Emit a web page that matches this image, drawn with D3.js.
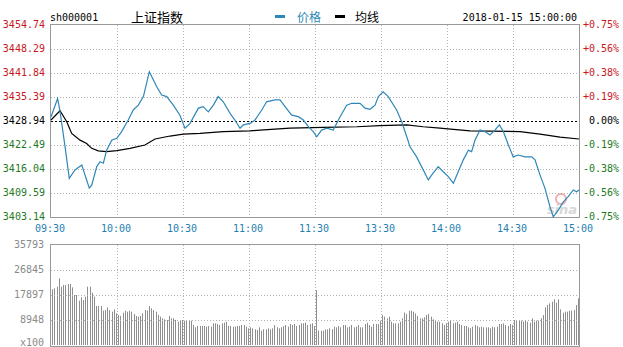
<!DOCTYPE html>
<html>
<head>
<meta charset="utf-8">
<script src="https://cdn.jsdelivr.net/npm/d3@7/dist/d3.min.js"></script>
<style>
	body { margin: 0; background: #fff; }
	text { font-family: "DejaVu Sans Mono", monospace; font-size: 10px; }
	.cjk { font-family: "Noto Sans CJK SC", sans-serif; font-size: 12px; }
	.grid { stroke: #b4b4b4; stroke-dasharray: 1, 2; shape-rendering: crispEdges; }
	.frame { fill: none; stroke: #999; shape-rendering: crispEdges; }
</style>
</head>
<body>
<svg id="chart" width="623" height="347"></svg>
<script>
// axis labels
var timeLabels = ["09:30", "10:00", "10:30", "11:00", "11:30", "13:30", "14:00", "14:30", "15:00"];
var timeTicks = [0, 30, 60, 90, 120, 150, 180, 210, 240];
var priceTicks = [3454.74, 3448.29, 3441.84, 3435.39, 3428.94, 3422.49, 3416.04, 3409.59, 3403.14];
var pctLabels = ["+0.75%", "+0.56%", "+0.38%", "+0.19%", "0.00%", "-0.19%", "-0.38%", "-0.56%", "-0.75%"];
var volTicks = [35793, 26845, 17897, 8948, 0];
var volLabels = ["35793", "26845", "17897", "8948", "x100"];
var prevClose = 3428.94;

// price line, [minute since 09:30, price]
var pricePts = [
	[0, 3430.0], [3, 3435.0], [4, 3431.9], [6.4, 3422.0], [8.3, 3413.5], [10.9, 3415.8],
	[14, 3417.1], [14.7, 3415.8], [16.2, 3413.1], [17.4, 3410.9], [18.5, 3411.7], [20.8, 3416.7],
	[22.3, 3418.0], [23.8, 3417.6], [25.3, 3421.1], [27.6, 3423.8], [29.9, 3424.3], [32.1, 3426.1],
	[35.1, 3429.2], [37.4, 3431.9], [39.7, 3433.2], [42, 3435.5], [44.7, 3442.2], [48, 3438.2],
	[50.3, 3435.9], [52.6, 3435.5], [55.6, 3433.2], [58.6, 3430.5], [60.9, 3427.0], [63.2, 3428.3],
	[67, 3432.4], [69.2, 3432.8], [71.5, 3431.4], [73.8, 3433.2], [76, 3435.5], [78.3, 3434.1],
	[81.4, 3431.0], [83.6, 3429.2], [85.9, 3427.0], [87.4, 3427.9], [90.5, 3428.3], [92.7, 3429.2],
	[95.8, 3431.9], [98, 3434.1], [101.8, 3434.6], [104.1, 3434.6], [106.4, 3432.8], [109.4, 3430.5],
	[112.4, 3430.1], [114.7, 3429.2], [117, 3427.4], [119.2, 3426.1], [120.8, 3424.7], [123, 3426.5],
	[125.3, 3427.0], [128.3, 3426.5], [131.4, 3430.1], [134.4, 3433.2], [136.7, 3433.7], [140.5, 3433.7],
	[142.7, 3432.4], [145, 3432.1], [147.3, 3433.2], [148.8, 3435.5], [151, 3436.8], [153.3, 3435.5],
	[157.1, 3431.9], [159.4, 3428.8], [161.7, 3424.7], [163.2, 3422.0], [166.2, 3419.3], [169.2, 3415.8],
	[171.5, 3413.1], [173, 3414.4], [176, 3416.7], [178.3, 3415.3], [180.6, 3414.0], [182.9, 3412.2],
	[185.1, 3415.3], [187.4, 3418.5], [189.7, 3421.1], [191.2, 3420.7], [192.7, 3423.8], [195, 3426.5],
	[197.3, 3426.1], [199.5, 3425.2], [201.8, 3426.5], [203.8, 3427.9], [205.6, 3426.1], [207.9, 3422.5],
	[210.1, 3419.3], [212.4, 3419.8], [215.5, 3419.3], [218.5, 3419.3], [220, 3418.5], [222.3, 3414.4],
	[224.5, 3410.9], [226.8, 3405.9], [228.3, 3403.2], [230.6, 3405.0], [232.9, 3407.2], [235.1, 3408.6],
	[237.4, 3410.4], [238.9, 3409.9], [240, 3410.4]
];

// average line
var avgPts = [
	[0, 3429.2], [4.1, 3431.7], [7.1, 3428.8], [9.4, 3425.6], [13.2, 3423.8], [16.2, 3422.9],
	[18.5, 3421.6], [21.5, 3420.9], [25.3, 3420.7], [29.9, 3421.0], [35.9, 3421.6], [42.7, 3422.5],
	[47.3, 3424.1], [54.1, 3424.9], [60.1, 3425.4], [67.7, 3425.6], [78.3, 3426.1], [90.5, 3426.3],
	[95, 3426.5], [108.6, 3427.0], [123.8, 3427.2], [139, 3427.4], [149.5, 3427.7], [161.7, 3427.9],
	[169.2, 3427.4], [176.8, 3427.0], [182.9, 3426.7], [190.5, 3426.3], [213.2, 3426.1], [222.3, 3425.4],
	[231.4, 3424.6], [240, 3424.1]
];

// volume per minute (x100)
var volume = [
	19924, 20282, 20879, 23862, 20879, 21476, 21476, 21833, 21833, 20640,
	17897, 17897, 15868, 17061, 16107, 17300, 20879, 20879, 18731, 17300,
	13959, 13959, 13959, 12289, 12527, 13482, 12527, 11931, 12766, 11334,
	10738, 10380, 11573, 12289, 11931, 12289, 11931, 11096, 10380, 10141,
	10380, 11334, 12527, 12289, 13959, 13124, 12527, 11931, 10738, 10141,
	9544, 9186, 8948, 10380, 9544, 9544, 8948, 8351, 8948, 8948,
	8709, 8709, 8709, 8709, 7158, 6323, 6800, 6800, 6800, 6800,
	6562, 6800, 6562, 7755, 7755, 7516, 7158, 7755, 7994, 8351,
	6800, 6800, 6562, 6562, 6800, 6800, 7158, 7158, 6562, 5965,
	6323, 5965, 5607, 5369, 6323, 5130, 5607, 5607, 5965, 5607,
	5965, 7158, 6323, 5965, 6323, 6800, 7158, 6562, 7516, 7158,
	7516, 6800, 7158, 7755, 7755, 7994, 7158, 7516, 7755, 6800,
	19686, 5130, 5130, 5130, 5607, 5607, 5965, 5607, 6562, 6323,
	6800, 6323, 7158, 7158, 6323, 6562, 7158, 6323, 6562, 7158,
	6323, 6323, 7516, 7994, 7158, 6562, 7516, 7516, 7516, 8709,
	10738, 10141, 9544, 10141, 8351, 7755, 7755, 7755, 8351, 9544,
	11573, 11096, 12289, 12289, 11931, 11334, 10380, 9544, 9544, 9903,
	10738, 11096, 10141, 9186, 8709, 8351, 8351, 7755, 7158, 7755,
	8351, 8709, 7755, 7994, 8351, 7516, 7158, 6800, 6800, 6323,
	5965, 6562, 7158, 6800, 6323, 6562, 6323, 6323, 6323, 5965,
	6562, 6323, 6562, 7516, 7516, 7755, 7158, 6800, 7516, 7158,
	8948, 8948, 8709, 8709, 8351, 8948, 8351, 7994, 9544, 8351,
	8709, 8709, 9544, 10738, 13482, 14317, 14914, 15510, 16345, 15152,
	16345, 12766, 11573, 11931, 11931, 12289, 12289, 12527, 14317, 16703
];

var svg = d3.select("#chart");

var x0 = 51, x1 = 579;
var x = d3.scaleLinear().domain([0, 240]).range([x0, x1]);
var y = d3.scaleLinear().domain([3403.14, 3454.74]).range([217, 25]);
var yVol = d3.scaleLinear().domain([0, 35793]).range([345, 245]);

var red = "#c8181e", green = "#1e7a1e", blue = "#2f87b8";

function labelColour(v) {
	if (Math.abs(v - prevClose) < 0.001) return "#000";
	return v > prevClose ? red : green;
}

// HEADER -------------------------------------------
svg.append("text").attr("x", 50).attr("y", 21).text("sh000001");
svg.append("text").attr("x", 131).attr("y", 22).classed("cjk", true).style("font-size", "13px").text("上证指数");

svg.append("rect").attr("x", 275).attr("y", 15).attr("width", 10).attr("height", 3).attr("fill", blue);
svg.append("text").attr("x", 297).attr("y", 22).classed("cjk", true).attr("fill", blue).text("价格");
svg.append("rect").attr("x", 335).attr("y", 15).attr("width", 10).attr("height", 3).attr("fill", "#000");
svg.append("text").attr("x", 355).attr("y", 22).classed("cjk", true).text("均线");

svg.append("text").attr("x", 577).attr("y", 21).attr("text-anchor", "end").text("2018-01-15 15:00:00");

// PRICE PANEL --------------------------------------
var priceG = svg.append("g");

// horizontal grid, previous close dashed black
priceG.selectAll(".hgrid")
	.data(priceTicks.slice(1, -1))
	.enter()
	.append("line")
	.attr("class", "grid")
	.attr("x1", x0).attr("x2", x1)
	.attr("y1", d => Math.round(y(d)) + 0.5)
	.attr("y2", d => Math.round(y(d)) + 0.5)
	.style("stroke", d => d === prevClose ? "#000" : null)
	.style("stroke-dasharray", d => d === prevClose ? "2,2" : null);

priceG.selectAll(".vgrid")
	.data(timeTicks.slice(1, -1))
	.enter()
	.append("line")
	.attr("class", "grid")
	.attr("x1", d => Math.round(x(d)) + 0.5)
	.attr("x2", d => Math.round(x(d)) + 0.5)
	.attr("y1", 25).attr("y2", 217);

// watermark
var wm = priceG.append("g").attr("opacity", 0.55);
wm.append("circle").attr("cx", 561).attr("cy", 199).attr("r", 5)
	.attr("fill", "none").attr("stroke", "#e07070").attr("stroke-width", 2);
wm.append("text").attr("x", 562).attr("y", 214).attr("text-anchor", "middle")
	.style("font-family", "DejaVu Sans").style("font-size", "13px")
	.style("font-style", "italic").style("font-weight", "bold")
	.attr("fill", "#b8b8b8").text("sina");

priceG.append("rect").attr("class", "frame")
	.attr("x", x0 - 0.5).attr("y", 24.5).attr("width", x1 - x0 + 1).attr("height", 193);

var line = d3.line().x(d => x(d[0])).y(d => y(d[1]));

priceG.append("path").datum(avgPts).attr("d", line)
	.attr("fill", "none").attr("stroke", "#000").attr("stroke-width", 1.2);
priceG.append("path").datum(pricePts).attr("d", line)
	.attr("fill", "none").attr("stroke", blue).attr("stroke-width", 1.2);

// left / right labels
svg.selectAll(".plabel")
	.data(priceTicks)
	.enter()
	.append("text")
	.attr("x", 45)
	.attr("y", d => y(d) + 3)
	.attr("text-anchor", "end")
	.attr("fill", labelColour)
	.text(d => d.toFixed(2));

svg.selectAll(".pct")
	.data(priceTicks)
	.enter()
	.append("text")
	.attr("x", 619)
	.attr("y", d => y(d) + 3)
	.attr("text-anchor", "end")
	.attr("fill", labelColour)
	.text((d, i) => pctLabels[i]);

// time labels
svg.selectAll(".tlabel")
	.data(timeTicks)
	.enter()
	.append("text")
	.attr("x", d => x(d) - 1)
	.attr("y", 232)
	.attr("text-anchor", "middle")
	.attr("fill", "#1f7fb0")
	.text((d, i) => timeLabels[i]);

// VOLUME PANEL -------------------------------------
var volG = svg.append("g");

volG.selectAll(".vbar")
	.data(volume)
	.enter()
	.append("rect")
	.attr("x", (d, i) => Math.round(x(i + 0.5)))
	.attr("y", d => yVol(d))
	.attr("width", 1)
	.attr("height", d => 345 - yVol(d))
	.attr("fill", "#8e8e8e");

volG.selectAll(".hgrid")
	.data(volTicks.slice(1, -1))
	.enter()
	.append("line")
	.attr("class", "grid")
	.attr("x1", x0).attr("x2", x1)
	.attr("y1", d => Math.round(yVol(d)) + 0.5)
	.attr("y2", d => Math.round(yVol(d)) + 0.5);

volG.selectAll(".vgrid")
	.data(timeTicks.slice(1, -1))
	.enter()
	.append("line")
	.attr("class", "grid")
	.attr("x1", d => Math.round(x(d)) + 0.5)
	.attr("x2", d => Math.round(x(d)) + 0.5)
	.attr("y1", 245).attr("y2", 346);

volG.append("rect").attr("class", "frame")
	.attr("x", x0 - 0.5).attr("y", 244.5).attr("width", x1 - x0 + 1).attr("height", 102);

// bottom label kept inside the canvas
svg.selectAll(".vlabel")
	.data(volTicks)
	.enter()
	.append("text")
	.attr("x", 44)
	.attr("y", d => Math.min(yVol(d) + 3, 346))
	.attr("text-anchor", "end")
	.attr("fill", "#8a8a8a")
	.text((d, i) => volLabels[i]);
</script>
</body>
</html>
